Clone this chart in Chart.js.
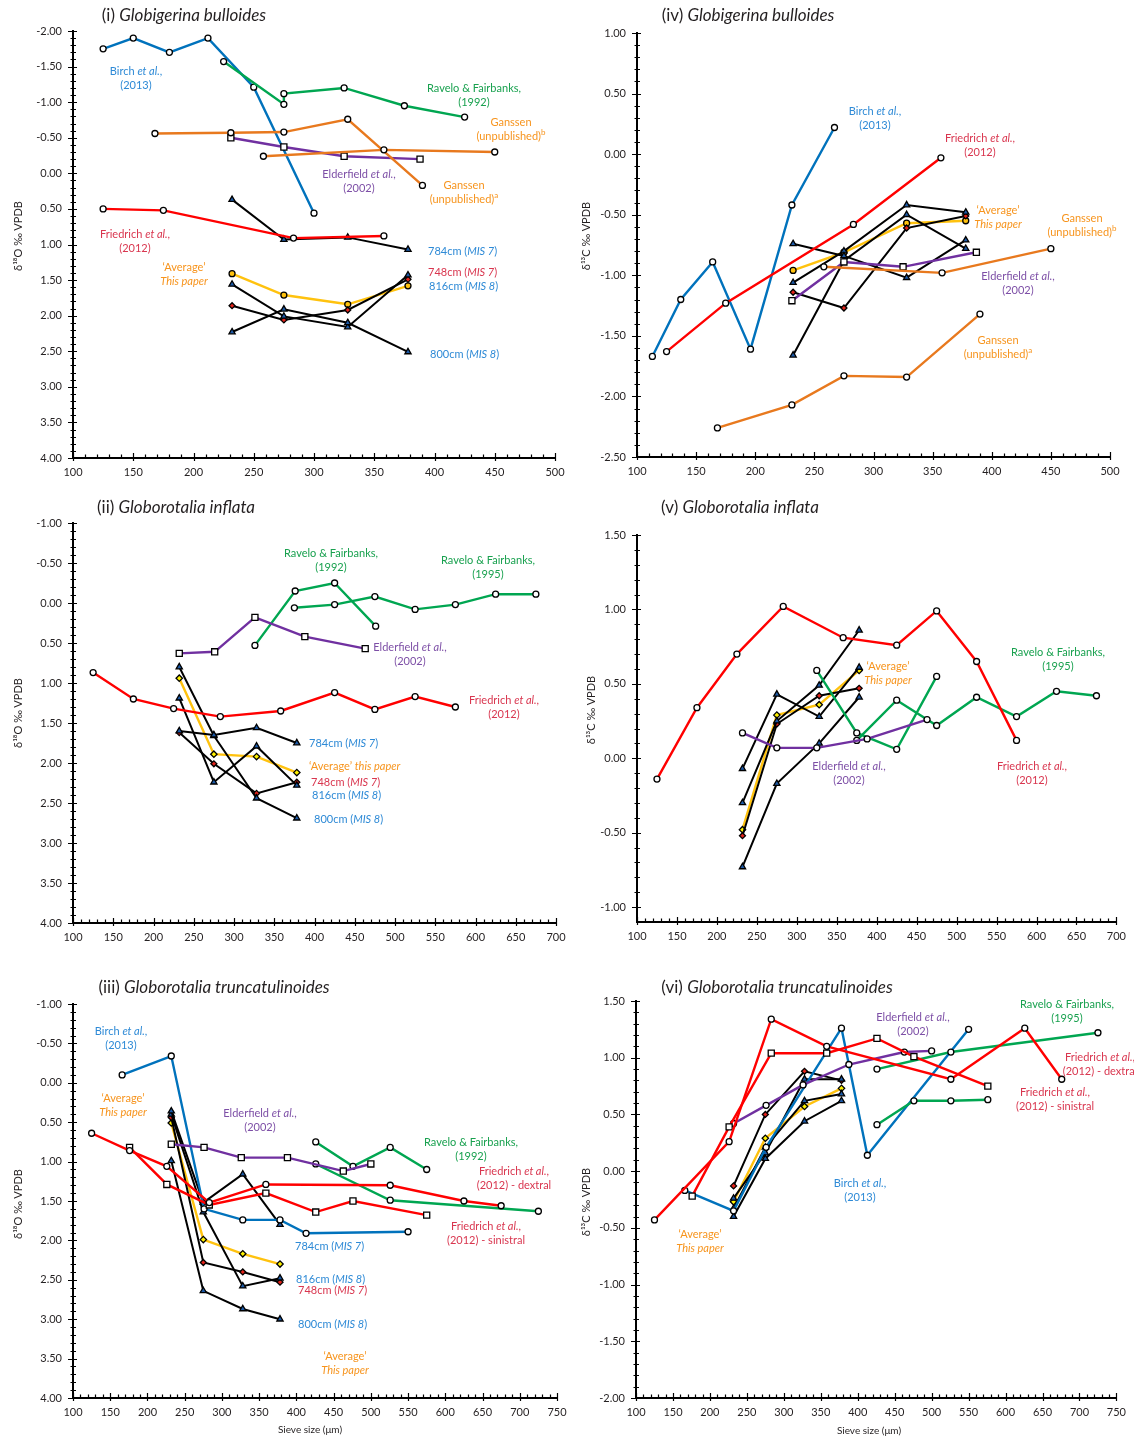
<!DOCTYPE html>
<html>
<head>
<meta charset="utf-8">
<script src="https://cdn.jsdelivr.net/npm/chart.js@4.4.0/dist/chart.umd.min.js"></script>
<style>
html,body{margin:0;padding:0;background:#fff;}
#page{position:relative;width:1134px;height:1437px;overflow:hidden;font-family:Lato,"Open Sans",sans-serif;color:#231f20;}
canvas{position:absolute;}
.t{position:absolute;white-space:nowrap;font-size:11px;line-height:14px;}
.c{transform:translateX(-50%);text-align:center;}
.ttl{position:absolute;white-space:nowrap;font-size:17px;line-height:18px;transform:translateX(-50%);}
.ylab{position:absolute;white-space:nowrap;font-size:11px;transform:translate(-50%,-50%) rotate(-90deg);}
sup{font-size:8px;line-height:0;vertical-align:5px;}
.blue{color:#2e8ad6}.red{color:#d9364f}.green{color:#19a14f}.orange{color:#f7941d}.purple{color:#7d4fa6}
</style>
</head>
<body>
<div id="page">
  <canvas id="c1"></canvas><canvas id="c4"></canvas>
  <canvas id="c2"></canvas><canvas id="c5"></canvas>
  <canvas id="c3"></canvas><canvas id="c6"></canvas>

  <!-- panel titles -->
  <div class="ttl" style="left:184px;top:6px">(i) <i>Globigerina bulloides</i></div>
  <div class="ttl" style="left:748px;top:6px">(iv) <i>Globigerina bulloides</i></div>
  <div class="ttl" style="left:176px;top:498px">(ii) <i>Globorotalia inflata</i></div>
  <div class="ttl" style="left:740px;top:498px">(v) <i>Globorotalia inflata</i></div>
  <div class="ttl" style="left:214px;top:978px">(iii) <i>Globorotalia truncatulinoides</i></div>
  <div class="ttl" style="left:777px;top:978px">(vi) <i>Globorotalia truncatulinoides</i></div>

  <!-- axis titles -->
  <div class="ylab" style="left:17px;top:236px">δ¹⁸O ‰ VPDB</div>
  <div class="ylab" style="left:585px;top:236px">δ¹³C ‰ VPDB</div>
  <div class="ylab" style="left:17px;top:713px">δ¹⁸O ‰ VPDB</div>
  <div class="ylab" style="left:590px;top:710px">δ¹³C ‰ VPDB</div>
  <div class="ylab" style="left:17px;top:1204px">δ¹⁸O ‰ VPDB</div>
  <div class="ylab" style="left:585px;top:1202px">δ¹³C ‰ VPDB</div>
  <div class="t c" style="left:310px;top:1422px;font-size:10px">Sieve size (μm)</div>
  <div class="t c" style="left:869px;top:1423px;font-size:10px">Sieve size (μm)</div>

  <!-- (i) labels -->
  <div class="t c blue" style="left:136px;top:64px">Birch <i>et al.</i>,<br>(2013)</div>
  <div class="t c red" style="left:135px;top:227px">Friedrich <i>et al.</i>,<br>(2012)</div>
  <div class="t c orange" style="left:184px;top:260px">‘Average’<br><i>This paper</i></div>
  <div class="t c green" style="left:474px;top:81px">Ravelo &amp; Fairbanks,<br>(1992)</div>
  <div class="t c orange" style="left:511px;top:115px">Ganssen<br>(unpublished)<sup>b</sup></div>
  <div class="t c purple" style="left:359px;top:167px">Elderfield <i>et al.</i>,<br>(2002)</div>
  <div class="t c orange" style="left:464px;top:178px">Ganssen<br>(unpublished)<sup>a</sup></div>
  <div class="t blue" style="left:428px;top:244px">784cm (<i>MIS 7</i>)</div>
  <div class="t red" style="left:428px;top:265px">748cm (<i>MIS 7</i>)</div>
  <div class="t blue" style="left:429px;top:279px">816cm (<i>MIS 8</i>)</div>
  <div class="t blue" style="left:430px;top:347px">800cm (<i>MIS 8</i>)</div>

  <!-- (iv) labels -->
  <div class="t c blue" style="left:875px;top:104px">Birch <i>et al.</i>,<br>(2013)</div>
  <div class="t c red" style="left:980px;top:131px">Friedrich <i>et al.</i>,<br>(2012)</div>
  <div class="t c orange" style="left:998px;top:203px">‘Average’<br><i>This paper</i></div>
  <div class="t c orange" style="left:1082px;top:211px">Ganssen<br>(unpublished)<sup>b</sup></div>
  <div class="t c purple" style="left:1018px;top:269px">Elderfield <i>et al.</i>,<br>(2002)</div>
  <div class="t c orange" style="left:998px;top:333px">Ganssen<br>(unpublished)<sup>a</sup></div>

  <!-- (ii) labels -->
  <div class="t c green" style="left:331px;top:546px">Ravelo &amp; Fairbanks,<br>(1992)</div>
  <div class="t c green" style="left:488px;top:553px">Ravelo &amp; Fairbanks,<br>(1995)</div>
  <div class="t c purple" style="left:410px;top:640px">Elderfield <i>et al.</i>,<br>(2002)</div>
  <div class="t c red" style="left:504px;top:693px">Friedrich <i>et al.</i>,<br>(2012)</div>
  <div class="t blue" style="left:309px;top:736px">784cm (<i>MIS 7</i>)</div>
  <div class="t orange" style="left:309px;top:759px">‘Average’ <i>this paper</i></div>
  <div class="t red" style="left:311px;top:775px">748cm (<i>MIS 7</i>)</div>
  <div class="t blue" style="left:312px;top:788px">816cm (<i>MIS 8</i>)</div>
  <div class="t blue" style="left:314px;top:812px">800cm (<i>MIS 8</i>)</div>

  <!-- (v) labels -->
  <div class="t c orange" style="left:888px;top:659px">‘Average’<br><i>This paper</i></div>
  <div class="t c green" style="left:1058px;top:645px">Ravelo &amp; Fairbanks,<br>(1995)</div>
  <div class="t c purple" style="left:849px;top:759px">Elderfield <i>et al.</i>,<br>(2002)</div>
  <div class="t c red" style="left:1032px;top:759px">Friedrich <i>et al.</i>,<br>(2012)</div>

  <!-- (iii) labels -->
  <div class="t c blue" style="left:121px;top:1024px">Birch <i>et al.</i>,<br>(2013)</div>
  <div class="t c orange" style="left:123px;top:1091px">‘Average’<br><i>This paper</i></div>
  <div class="t c purple" style="left:260px;top:1106px">Elderfield <i>et al.</i>,<br>(2002)</div>
  <div class="t c green" style="left:471px;top:1135px">Ravelo &amp; Fairbanks,<br>(1992)</div>
  <div class="t c red" style="left:514px;top:1164px">Friedrich <i>et al.</i>,<br>(2012) - dextral</div>
  <div class="t c red" style="left:486px;top:1219px">Friedrich <i>et al.</i>,<br>(2012) - sinistral</div>
  <div class="t blue" style="left:295px;top:1239px">784cm (<i>MIS 7</i>)</div>
  <div class="t blue" style="left:296px;top:1272px">816cm (<i>MIS 8</i>)</div>
  <div class="t red" style="left:298px;top:1283px">748cm (<i>MIS 7</i>)</div>
  <div class="t blue" style="left:298px;top:1317px">800cm (<i>MIS 8</i>)</div>
  <div class="t c orange" style="left:345px;top:1349px">‘Average’<br><i>This paper</i></div>

  <!-- (vi) labels -->
  <div class="t c purple" style="left:913px;top:1010px">Elderfield <i>et al.</i>,<br>(2002)</div>
  <div class="t c green" style="left:1067px;top:997px">Ravelo &amp; Fairbanks,<br>(1995)</div>
  <div class="t c red" style="left:1100px;top:1050px">Friedrich <i>et al.</i>,<br>(2012) - dextral</div>
  <div class="t c red" style="left:1055px;top:1085px">Friedrich <i>et al.</i>,<br>(2012) - sinistral</div>
  <div class="t c blue" style="left:860px;top:1176px">Birch <i>et al.</i>,<br>(2013)</div>
  <div class="t c orange" style="left:700px;top:1227px">‘Average’<br><i>This paper</i></div>
</div>

<script>
// ---- axis ticks ----
const xTicks500 = [100, 150, 200, 250, 300, 350, 400, 450, 500];
const xTicks700 = [100, 150, 200, 250, 300, 350, 400, 450, 500, 550, 600, 650, 700];
const xTicks750 = [100, 150, 200, 250, 300, 350, 400, 450, 500, 550, 600, 650, 700, 750];
const yTicksI   = [-2.0, -1.5, -1.0, -0.5, 0.0, 0.5, 1.0, 1.5, 2.0, 2.5, 3.0, 3.5, 4.0];
const yTicksIV  = [-2.5, -2.0, -1.5, -1.0, -0.5, 0.0, 0.5, 1.0];
const yTicksII  = [-1.0, -0.5, 0.0, 0.5, 1.0, 1.5, 2.0, 2.5, 3.0, 3.5, 4.0];
const yTicksV   = [-1.0, -0.5, 0.0, 0.5, 1.0, 1.5];
const yTicksIII = [-1.0, -0.5, 0.0, 0.5, 1.0, 1.5, 2.0, 2.5, 3.0, 3.5, 4.0];
const yTicksVI  = [-2.0, -1.5, -1.0, -0.5, 0.0, 0.5, 1.0, 1.5];

// sieve-size fractions measured in this paper (µm, fraction midpoints)
const thisPaperSizes = [232, 275, 328, 378];

// ---- (i) G. bulloides, d18O ----
const iBirchX = [125, 150, 180, 212, 250, 300];
const iBirchY = [-1.75, -1.90, -1.70, -1.90, -1.21, 0.56];
const iRavelo92X = [225, 275, 275, 325, 375, 425];
const iRavelo92Y = [-1.57, -0.97, -1.12, -1.20, -0.95, -0.79];
const iGanssenAX = [168, 231, 275, 328, 390];
const iGanssenAY = [-0.56, -0.57, -0.58, -0.76, 0.17];
const iGanssenBX = [258, 358, 450];
const iGanssenBY = [-0.24, -0.33, -0.30];
const iElderX = [231, 275, 325, 388];
const iElderY = [-0.50, -0.37, -0.24, -0.20];
const iFriedX = [125, 175, 283, 358];
const iFriedY = [0.50, 0.52, 0.91, 0.88];
const i784 = [0.37, 0.93, 0.90, 1.07];
const i800 = [2.23, 1.91, 2.10, 2.51];
const i816 = [1.56, 2.01, 2.16, 1.43];
const i748 = [1.86, 2.06, 1.92, 1.49];
const iAvg = [1.41, 1.71, 1.84, 1.58];

// ---- (iv) G. bulloides, d13C ----
const ivBirchX = [113, 137, 164, 196, 231, 267];
const ivBirchY = [-1.67, -1.20, -0.89, -1.61, -0.42, 0.22];
const ivFriedX = [125, 175, 283, 357];
const ivFriedY = [-1.63, -1.23, -0.58, -0.03];
const ivGanssenAX = [168, 231, 275, 328, 390];
const ivGanssenAY = [-2.26, -2.07, -1.83, -1.84, -1.32];
const ivGanssenBX = [258, 358, 450];
const ivGanssenBY = [-0.93, -0.98, -0.78];
const ivElderX = [231, 275, 325, 387];
const ivElderY = [-1.21, -0.89, -0.93, -0.81];
const iv784 = [-0.74, -0.84, -1.02, -0.71];
const iv816 = [-1.06, -0.80, -0.42, -0.48];
const iv748 = [-1.14, -1.27, -0.61, -0.51];
const iv800 = [-1.66, -0.88, -0.50, -0.78];
const ivAvg = [-0.96, -0.81, -0.57, -0.55];

// ---- (ii) G. inflata, d18O ----
const iiFriedX = [125, 175, 225, 283, 358, 425, 475, 525, 575];
const iiFriedY = [0.87, 1.20, 1.32, 1.42, 1.35, 1.12, 1.33, 1.17, 1.30];
const iiElderX = [232, 276, 326, 388, 463];
const iiElderY = [0.63, 0.61, 0.18, 0.42, 0.57];
const iiRavelo92X = [326, 376, 425, 476];
const iiRavelo92Y = [0.53, -0.15, -0.25, 0.29];
const iiRavelo95X = [375, 425, 475, 525, 575, 625, 675];
const iiRavelo95Y = [0.06, 0.02, -0.08, 0.08, 0.02, -0.11, -0.11];
const ii784 = [1.60, 1.65, 1.56, 1.75];
const ii800 = [0.80, 1.66, 2.44, 2.69];
const ii816 = [1.19, 2.24, 1.79, 2.28];
const ii748 = [1.62, 2.01, 2.38, 2.24];
const iiAvg = [0.94, 1.89, 1.92, 2.12];

// ---- (v) G. inflata, d13C ----
const vFriedX = [125, 175, 225, 283, 358, 425, 475, 525, 575];
const vFriedY = [-0.14, 0.34, 0.70, 1.02, 0.81, 0.76, 0.99, 0.65, 0.12];
const vElderX = [232, 275, 325, 388, 463];
const vElderY = [0.17, 0.07, 0.07, 0.13, 0.26];
const vRavelo92X = [325, 375, 425, 475];
const vRavelo92Y = [0.59, 0.17, 0.06, 0.55];
const vRavelo95X = [375, 425, 475, 525, 575, 625, 675];
const vRavelo95Y = [0.12, 0.39, 0.22, 0.41, 0.28, 0.45, 0.42];
const v784 = [-0.07, 0.43, 0.28, 0.61];
const v816 = [-0.30, 0.25, 0.49, 0.86];
const v748 = [-0.52, 0.23, 0.42, 0.47];
const v800 = [-0.73, -0.17, 0.10, 0.41];
const vAvg = [-0.48, 0.29, 0.36, 0.59];

// ---- (iii) G. truncatulinoides, d18O ----
const iiiBirchX = [166, 232, 276, 328, 378, 413, 550];
const iiiBirchY = [-0.10, -0.34, 1.60, 1.74, 1.74, 1.91, 1.89];
const iiiElderX = [232, 276, 326, 388, 463, 500];
const iiiElderY = [0.78, 0.82, 0.95, 0.95, 1.12, 1.03];
const iiiRavelo92X = [426, 476, 526, 575];
const iiiRavelo92Y = [0.75, 1.06, 0.82, 1.10];
const iiiRavelo95X = [426, 526, 725];
const iiiRavelo95Y = [1.03, 1.49, 1.63];
const iiiDexX = [125, 176, 226, 283, 359, 526, 625, 675];
const iiiDexY = [0.64, 0.86, 1.06, 1.52, 1.29, 1.30, 1.50, 1.56];
const iiiSinX = [176, 226, 283, 359, 426, 476, 575];
const iiiSinY = [0.82, 1.29, 1.55, 1.40, 1.64, 1.50, 1.68];
const iii784 = [0.36, 1.52, 1.16, 1.80];
const iii816 = [0.40, 1.64, 2.58, 2.48];
const iii748 = [0.44, 2.28, 2.40, 2.53];
const iii800 = [0.99, 2.64, 2.87, 3.00];
const iiiAvg = [0.51, 1.99, 2.17, 2.30];

// ---- (vi) G. truncatulinoides, d13C ----
const viBirchX = [166, 232, 276, 378, 413, 550];
const viBirchY = [-0.17, -0.35, 0.21, 1.26, 0.14, 1.25];
const viElderX = [232, 276, 326, 388, 463, 500];
const viElderY = [0.42, 0.58, 0.76, 0.94, 1.05, 1.06];
const viRavelo92X = [426, 476, 526, 576];
const viRavelo92Y = [0.41, 0.62, 0.62, 0.63];
const viRavelo95X = [426, 526, 725];
const viRavelo95Y = [0.90, 1.05, 1.22];
const viDexX = [125, 226, 283, 358, 526, 626, 676];
const viDexY = [-0.43, 0.26, 1.34, 1.10, 0.81, 1.26, 0.81];
const viSinX = [176, 226, 283, 358, 426, 476, 576];
const viSinY = [-0.22, 0.39, 1.04, 1.04, 1.17, 1.01, 0.75];
const vi748 = [-0.13, 0.50, 0.88, 0.80];
const vi784 = [-0.24, 0.16, 0.81, 0.81];
const vi816 = [-0.33, 0.21, 0.62, 0.68];
const vi800 = [-0.40, 0.11, 0.44, 0.62];
const viAvg = [-0.27, 0.29, 0.57, 0.73];

// ---- series styles ----
const STY = {
  birch:   {color: '#0072bc', w: 2.4, marker: 'circle',  fill: '#fff',    r: 3},
  ravelo:  {color: '#00a651', w: 2.4, marker: 'circle',  fill: '#fff',    r: 3},
  ganssen: {color: '#e8791e', w: 2.4, marker: 'circle',  fill: '#fff',    r: 3},
  elderSq: {color: '#7030a0', w: 2.4, marker: 'rect',    fill: '#fff',    r: 4.3},
  elderC:  {color: '#7030a0', w: 2.4, marker: 'circle',  fill: '#fff',    r: 3},
  fried:   {color: '#ff0000', w: 2.4, marker: 'circle',  fill: '#fff',    r: 3},
  friedSq: {color: '#ff0000', w: 2.4, marker: 'rect',    fill: '#fff',    r: 4.3},
  tri:     {color: '#000',    w: 2.0, marker: 'triangle',fill: '#1c5aa8', r: 3.6},
  dia:     {color: '#000',    w: 2.0, marker: 'rectRot', fill: '#e2231a', r: 3},
  avgC:    {color: '#ffc20e', w: 2.4, marker: 'circle',  fill: '#ffc20e', r: 3},
  avgD:    {color: '#ffc20e', w: 2.4, marker: 'rectRot', fill: '#fff200', r: 3.2}
};

function ds(st, xs, ys) {
  return {
    data: xs.map((x, i) => ({x: x, y: ys[i]})),
    showLine: true, tension: 0, clip: false,
    borderColor: st.color, borderWidth: st.w,
    pointStyle: st.marker, pointRadius: st.r,
    pointBackgroundColor: st.fill, pointBorderColor: '#000', pointBorderWidth: 1.3
  };
}

// black "this paper" lines + yellow average, shared by every panel
function thisPaper(l784, l800, l816, l748, avg, avgStyle) {
  return [
    ds(STY.tri, thisPaperSizes, l784),
    ds(STY.tri, thisPaperSizes, l800),
    ds(STY.tri, thisPaperSizes, l816),
    ds(STY.dia, thisPaperSizes, l748),
    ds(avgStyle, thisPaperSizes, avg)
  ];
}

// major ticks crossing the axis, minor ticks every fifth of an interval
const axisTicks = {
  id: 'axisTicks',
  afterDraw(chart) {
    const {ctx, chartArea: a, scales: {x, y}} = chart;
    const marks = (scale) => {
      const v = scale.ticks.map(t => t.value), out = [];
      for (let i = 0; i < v.length; i++) {
        out.push([v[i], true]);
        if (i < v.length - 1) for (let k = 1; k < 5; k++) out.push([v[i] + (v[i + 1] - v[i]) * k / 5, false]);
      }
      return out;
    };
    ctx.save();
    ctx.strokeStyle = '#000';
    ctx.lineWidth = 1.2;
    ctx.beginPath();
    for (const [v, major] of marks(y)) {
      const p = Math.round(y.getPixelForValue(v)) + 0.5;
      ctx.moveTo(a.left - (major ? 5 : 2.5), p);
      ctx.lineTo(a.left + (major ? 4 : 3), p);
    }
    for (const [v, major] of marks(x)) {
      const p = Math.round(x.getPixelForValue(v)) + 0.5;
      ctx.moveTo(p, a.bottom + (major ? 3 : 0));
      ctx.lineTo(p, a.bottom - (major ? 5 : 3.5));
    }
    ctx.stroke();
    ctx.restore();
  }
};

Chart.defaults.font.family = 'Lato, "Open Sans", sans-serif';
Chart.defaults.color = '#231f20';

const XH = 24;
// box: canvas rectangle on the page; area: wanted plot rectangle on the page
function panel(id, box, area, datasets, xTicks, yTicks, yMin, yMax, yReverse) {
  const cv = document.getElementById(id);
  cv.style.left = box[0] + 'px';
  cv.style.top = box[1] + 'px';
  cv.width = box[2];
  cv.height = box[3];
  const yW = area[0] - box[0];
  new Chart(cv, {
    type: 'scatter',
    data: {datasets: datasets},
    options: {
      responsive: false, animation: false, devicePixelRatio: 1,
      layout: {padding: {left: 0, top: area[1] - box[1], right: box[0] + box[2] - area[2], bottom: box[1] + box[3] - area[3] - XH}},
      plugins: {legend: {display: false}, tooltip: {enabled: false}},
      scales: {
        x: {
          type: 'linear', min: xTicks[0], max: xTicks[xTicks.length - 1],
          afterBuildTicks: s => { s.ticks = xTicks.map(v => ({value: v})); },
          afterFit: s => { s.height = XH; },
          grid: {display: false, drawTicks: false},
          border: {display: true, color: '#000', width: 2},
          ticks: {padding: 8, autoSkip: false, maxRotation: 0, font: {size: 11}, callback: v => String(v)}
        },
        y: {
          type: 'linear', min: yMin, max: yMax, reverse: yReverse,
          afterBuildTicks: s => { s.ticks = yTicks.map(v => ({value: v})); },
          afterFit: s => { s.width = yW; },
          grid: {display: false, drawTicks: false},
          border: {display: true, color: '#000', width: 2},
          ticks: {padding: 11, autoSkip: false, font: {size: 11}, callback: v => Number(v).toFixed(2)}
        }
      }
    },
    plugins: [axisTicks]
  });
}

// (i)
panel('c1', [0, 0, 575, 490], [73, 31, 555, 458], [
  ds(STY.ganssen, iGanssenBX, iGanssenBY),
  ds(STY.ganssen, iGanssenAX, iGanssenAY),
  ds(STY.elderSq, iElderX, iElderY),
  ds(STY.ravelo, iRavelo92X, iRavelo92Y),
  ds(STY.birch, iBirchX, iBirchY),
  ds(STY.fried, iFriedX, iFriedY),
  ...thisPaper(i784, i800, i816, i748, iAvg, STY.avgC)
], xTicks500, yTicksI, -2, 4, true);

// (iv)
panel('c4', [575, 0, 559, 490], [637, 33, 1110, 457], [
  ds(STY.ganssen, ivGanssenBX, ivGanssenBY),
  ds(STY.ganssen, ivGanssenAX, ivGanssenAY),
  ds(STY.elderSq, ivElderX, ivElderY),
  ds(STY.fried, ivFriedX, ivFriedY),
  ds(STY.birch, ivBirchX, ivBirchY),
  ...thisPaper(iv784, iv800, iv816, iv748, ivAvg, STY.avgC)
], xTicks500, yTicksIV, -2.5, 1, false);

// (ii)
panel('c2', [0, 498, 575, 454], [73, 523, 556, 923], [
  ds(STY.fried, iiFriedX, iiFriedY),
  ds(STY.elderSq, iiElderX, iiElderY),
  ds(STY.ravelo, iiRavelo92X, iiRavelo92Y),
  ds(STY.ravelo, iiRavelo95X, iiRavelo95Y),
  ...thisPaper(ii784, ii800, ii816, ii748, iiAvg, STY.avgD)
], xTicks700, yTicksII, -1, 4, true);

// (v)
panel('c5', [575, 498, 559, 454], [637, 535, 1117, 922], [
  ds(STY.fried, vFriedX, vFriedY),
  ds(STY.elderC, vElderX, vElderY),
  ds(STY.ravelo, vRavelo92X, vRavelo92Y),
  ds(STY.ravelo, vRavelo95X, vRavelo95Y),
  ...thisPaper(v784, v800, v816, v748, vAvg, STY.avgD)
], xTicks700, yTicksV, -1.1, 1.5, false);

// (iii)
panel('c3', [0, 978, 575, 447], [73, 1004, 557, 1398], [
  ds(STY.fried, iiiDexX, iiiDexY),
  ds(STY.friedSq, iiiSinX, iiiSinY),
  ds(STY.elderSq, iiiElderX, iiiElderY),
  ds(STY.ravelo, iiiRavelo92X, iiiRavelo92Y),
  ds(STY.ravelo, iiiRavelo95X, iiiRavelo95Y),
  ds(STY.birch, iiiBirchX, iiiBirchY),
  ...thisPaper(iii784, iii800, iii816, iii748, iiiAvg, STY.avgD)
], xTicks750, yTicksIII, -1, 4, true);

// (vi)
panel('c6', [575, 978, 559, 447], [636, 1001, 1121, 1398], [
  ds(STY.fried, viDexX, viDexY),
  ds(STY.friedSq, viSinX, viSinY),
  ds(STY.elderC, viElderX, viElderY),
  ds(STY.ravelo, viRavelo92X, viRavelo92Y),
  ds(STY.ravelo, viRavelo95X, viRavelo95Y),
  ds(STY.birch, viBirchX, viBirchY),
  ...thisPaper(vi784, vi800, vi816, vi748, viAvg, STY.avgD)
], xTicks750, yTicksVI, -2, 1.5, false);
</script>
</body>
</html>
